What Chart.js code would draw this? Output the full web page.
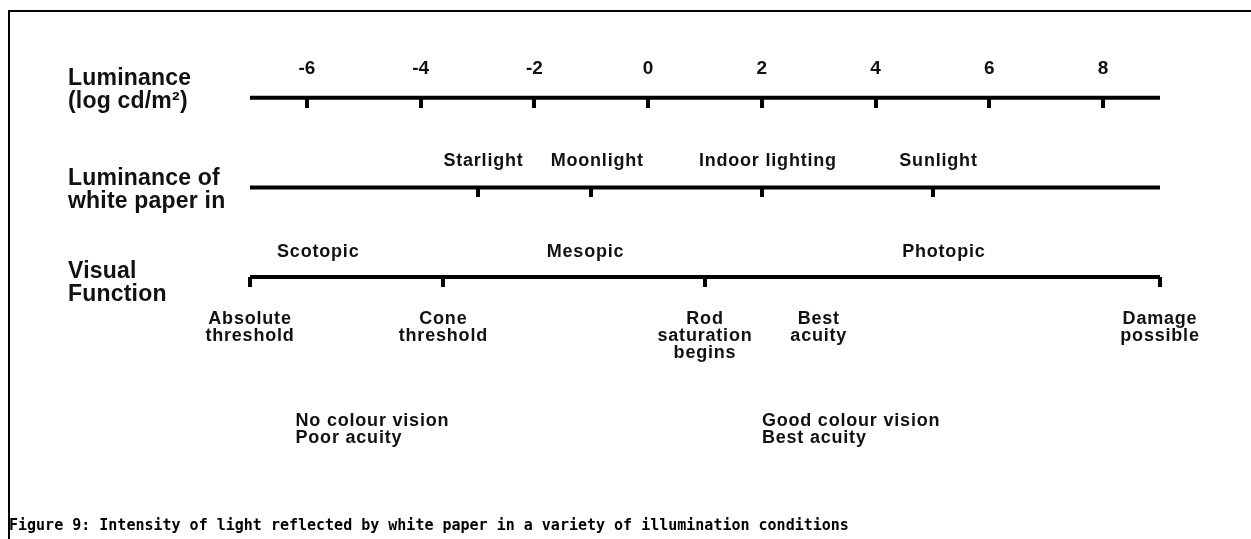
<!DOCTYPE html>
<html>
<head>
<meta charset="utf-8">
<script src="https://cdn.jsdelivr.net/npm/chart.js@4"></script>
<style>
  html, body { margin: 0; padding: 0; background: #fff; }
  #wrap { position: relative; width: 1251px; height: 539px; overflow: hidden; }
  #frame { position: absolute; left: 8px; top: 10px; right: 0; bottom: 0;
           border-top: 2px solid #000; border-left: 2px solid #000; }
  #chartBox { position: absolute; left: 0; top: 0; width: 1251px; height: 539px; }
  #caption { position: absolute; left: 9px; top: 516px; white-space: nowrap;
             font: bold 15px "DejaVu Sans Mono", monospace; color: #000; }
</style>
</head>
<body>
<div id="wrap">
  <div id="frame"></div>
  <div id="chartBox"><canvas id="escala"></canvas></div>
  <div id="caption">Figure 9: Intensity of light reflected by white paper in a variety of illumination conditions</div>
</div>
<script>
// escala en log cd/m2
const AXIS_MIN = -7;
const AXIS_MAX = 9;
const LUM_TICKS = [-6, -4, -2, 0, 2, 4, 6, 8];

const ROW_TITLES = [
  ["Luminance", "(log cd/m\u00B2)"],
  ["Luminance of", "white paper in"],
  ["Visual", "Function"]
];

const LIGHT_LABELS = ["Starlight", "Moonlight", "Indoor lighting", "Sunlight"];
const LIGHT_VALUES = [-3, -1, 2, 5];

const ZONE_LABELS = ["Scotopic", "Mesopic", "Photopic"];
const ZONE_VALUES = [-5.8, -1.1, 5.2];

const EVENT_LABELS = [
  ["Absolute", "threshold"],
  ["Cone", "threshold"],
  ["Rod", "saturation", "begins"],
  ["Best", "acuity"],
  ["Damage", "possible"]
];
const EVENT_VALUES = [-7, -3.6, 1, 3, 9];
const EVENT_TICKED = [true, true, true, false, true];

const NOTE_LABELS = [
  ["No colour vision", "Poor acuity"],
  ["Good colour vision", "Best acuity"]
];
const NOTE_VALUES = [-6.2, 2];

// filas: 0 luminancia, 1 papel blanco, 2 funcion visual
const ROWS = [0, 1, 2];

const INK = '#111';
const FONT = '"Liberation Sans", Arial, sans-serif';

// marca de division que cuelga bajo la linea
function crearMarca(ancho, caida) {
  const c = document.createElement('canvas');
  c.width = ancho;
  c.height = caida * 2;
  const g = c.getContext('2d');
  g.fillStyle = '#000';
  g.fillRect(0, caida, ancho, caida);
  return c;
}
const marca = crearMarca(4, 10);

const lineas = ROWS.map(r => ({
  data: [{ x: AXIS_MIN, y: r }, { x: AXIS_MAX, y: r }],
  showLine: true,
  borderColor: '#000',
  borderWidth: 4,
  pointRadius: 0,
  clip: false
}));

const marcas = [
  LUM_TICKS.map(v => ({ x: v, y: 0 })),
  LIGHT_VALUES.map(v => ({ x: v, y: 1 })),
  EVENT_VALUES.filter((v, i) => EVENT_TICKED[i]).map(v => ({ x: v, y: 2 }))
].map(puntos => ({
  data: puntos,
  pointStyle: marca,
  pointRadius: 3,
  pointHoverRadius: 3,
  clip: false
}));

const textos = {
  id: 'textos',
  afterDatasetsDraw(chart) {
    const { ctx, scales: { x, y } } = chart;
    ctx.save();
    ctx.fillStyle = INK;
    ctx.textBaseline = 'alphabetic';

    // titulos de fila
    ctx.font = 'bold 23px ' + FONT;
    ctx.letterSpacing = '0.2px';
    ctx.textAlign = 'left';
    const titleDy = [-13, -2, 1];
    ROW_TITLES.forEach((lineasTxt, r) => {
      lineasTxt.forEach((t, k) => {
        ctx.fillText(t, 68, y.getPixelForValue(r) + titleDy[r] + k * 23);
      });
    });

    ctx.font = 'bold 18px ' + FONT;
    ctx.letterSpacing = '0.8px';
    ctx.textAlign = 'center';

    LIGHT_LABELS.forEach((t, i) => {
      ctx.fillText(t, x.getPixelForValue(LIGHT_VALUES[i]) + 6, y.getPixelForValue(1) - 21);
    });

    ZONE_LABELS.forEach((t, i) => {
      ctx.fillText(t, x.getPixelForValue(ZONE_VALUES[i]), y.getPixelForValue(2) - 20);
    });

    EVENT_LABELS.forEach((lineasTxt, i) => {
      lineasTxt.forEach((t, k) => {
        ctx.fillText(t, x.getPixelForValue(EVENT_VALUES[i]), y.getPixelForValue(2) + 47 + k * 17);
      });
    });

    ctx.textAlign = 'left';
    NOTE_LABELS.forEach((lineasTxt, i) => {
      lineasTxt.forEach((t, k) => {
        ctx.fillText(t, x.getPixelForValue(NOTE_VALUES[i]), y.getPixelForValue(2) + 149 + k * 17);
      });
    });
    ctx.restore();
  }
};

new Chart(document.getElementById('escala').getContext('2d'), {
  type: 'scatter',
  data: { datasets: [...lineas, ...marcas] },
  options: {
    responsive: true,
    maintainAspectRatio: false,
    animation: false,
    events: [],
    layout: { padding: { left: 250, right: 91, top: 39, bottom: 262 } },
    scales: {
      x: {
        type: 'linear',
        position: 'top',
        min: AXIS_MIN,
        max: AXIS_MAX,
        afterBuildTicks: axis => { axis.ticks = LUM_TICKS.map(v => ({ value: v })); },
        grid: { display: false, drawTicks: false },
        border: { display: false },
        ticks: {
          color: INK,
          padding: 18,
          font: { family: FONT, size: 19, weight: 'bold' }
        }
      },
      y: {
        type: 'linear',
        display: false,
        min: 0,
        max: 2,
        reverse: true
      }
    },
    plugins: {
      legend: { display: false },
      tooltip: { enabled: false }
    }
  },
  plugins: [textos]
});
</script>
</body>
</html>
